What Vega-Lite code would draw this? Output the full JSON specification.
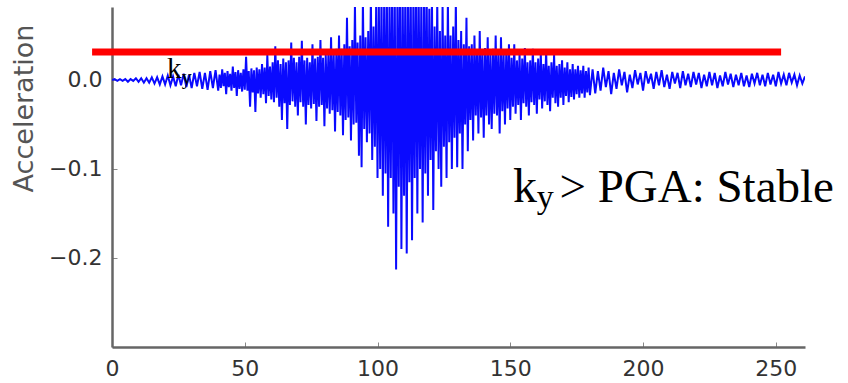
{
  "$schema": "https://vega.github.io/schema/vega-lite/v6.json",
  "width": 693,
  "height": 340,
  "autosize": "none",
  "padding": {"left": 112, "top": 7, "right": 43, "bottom": 36},
  "background": "white",
  "config": {"view": {"stroke": null}},
  "datasets": {
    "sig": [
      {"t":0,"a":0},{"t":1,"a":0.001},{"t":2,"a":-0.001},{"t":3,"a":0.001},{"t":4,"a":-0.001},{"t":5,"a":0.001},{"t":6,"a":-0.002},{"t":7,"a":0.001},{"t":8,"a":-0.001},{"t":9,"a":0.002},{"t":10,"a":-0.002},{"t":11,"a":0.002},{"t":12,"a":-0.003},{"t":13,"a":0.002},{"t":14,"a":-0.003},{"t":15,"a":0.003},{"t":16,"a":-0.004},{"t":17,"a":0.003},{"t":18,"a":-0.005},{"t":19,"a":0.004},{"t":20,"a":-0.005},{"t":21,"a":0.005},{"t":22,"a":-0.006},{"t":23,"a":0.004},{"t":24,"a":-0.007},{"t":25,"a":0.006},{"t":26,"a":-0.006},{"t":27,"a":0.007},{"t":28,"a":-0.008},{"t":29,"a":0.006},{"t":30,"a":-0.009},{"t":31,"a":0.008},{"t":32,"a":-0.007},{"t":33,"a":0.009},{"t":34,"a":-0.01},{"t":35,"a":0.008},{"t":36,"a":-0.011},{"t":37,"a":0.01},{"t":38,"a":-0.009},{"t":39,"a":0.011},{"t":40,"a":-0.012},
      {"t":40.5,"a":0.006},{"t":41,"a":-0.009},{"t":41.5,"a":0.012},{"t":42,"a":-0.007},{"t":42.5,"a":0.008},{"t":43,"a":-0.016},{"t":43.5,"a":0.01},{"t":44,"a":-0.008},{"t":44.5,"a":0.007},{"t":45,"a":-0.012},{"t":45.5,"a":0.015},{"t":46,"a":-0.009},{"t":46.5,"a":0.009},{"t":47,"a":-0.018},{"t":47.5,"a":0.011},{"t":48,"a":-0.01},{"t":48.5,"a":0.008},{"t":49,"a":-0.013},{"t":49.5,"a":0.012},{"t":50,"a":-0.011},{"t":50.5,"a":0.026},{"t":51,"a":-0.012},{"t":51.5,"a":0.01},{"t":52,"a":-0.03},{"t":52.5,"a":0.013},{"t":53,"a":-0.014},{"t":53.5,"a":0.011},{"t":54,"a":-0.036},{"t":54.5,"a":0.014},{"t":55,"a":-0.015},{"t":55.5,"a":0.012},{"t":56,"a":-0.02},{"t":56.5,"a":0.018},{"t":57,"a":-0.016},{"t":57.5,"a":0.014},{"t":58,"a":-0.026},{"t":58.5,"a":0.028},{"t":59,"a":-0.018},{"t":59.5,"a":0.015},{"t":60,"a":-0.022},
      {"t":60.5,"a":0.02},{"t":61,"a":-0.025},{"t":61.5,"a":0.038},{"t":62,"a":-0.02},{"t":62.5,"a":0.022},{"t":63,"a":-0.03},{"t":63.5,"a":0.018},{"t":64,"a":-0.045},{"t":64.5,"a":0.024},{"t":65,"a":-0.026},{"t":65.5,"a":0.02},{"t":66,"a":-0.055},{"t":66.5,"a":0.022},{"t":67,"a":-0.028},{"t":67.5,"a":0.042},{"t":68,"a":-0.024},{"t":68.5,"a":0.025},{"t":69,"a":-0.03},{"t":69.5,"a":0.02},{"t":70,"a":-0.04},{"t":70.5,"a":0.026},{"t":71,"a":-0.025},{"t":71.5,"a":0.044},{"t":72,"a":-0.03},{"t":72.5,"a":0.022},{"t":73,"a":-0.05},{"t":73.5,"a":0.025},{"t":74,"a":-0.028},{"t":74.5,"a":0.02},{"t":75,"a":-0.032},{"t":75.5,"a":0.04},{"t":76,"a":-0.027},{"t":76.5,"a":0.024},{"t":77,"a":-0.046},{"t":77.5,"a":0.026},{"t":78,"a":-0.03},{"t":78.5,"a":0.045},{"t":79,"a":-0.028},{"t":79.5,"a":0.025},{"t":80,"a":-0.052},{"t":80.5,"a":0.028},{"t":81,"a":-0.032},{"t":81.5,"a":0.03},{"t":82,"a":-0.038},{"t":82.5,"a":0.048},{"t":83,"a":-0.034},{"t":83.5,"a":0.03},{"t":84,"a":-0.058},{"t":84.5,"a":0.035},{"t":85,"a":-0.036},
      {"t":85.5,"a":0.05},{"t":86,"a":-0.04},{"t":86.5,"a":0.035},{"t":87,"a":-0.062},{"t":87.5,"a":0.04},{"t":88,"a":-0.045},{"t":88.5,"a":0.07},{"t":89,"a":-0.042},{"t":89.5,"a":0.038},{"t":90,"a":-0.068},{"t":90.5,"a":0.045},{"t":91,"a":-0.05},{"t":91.5,"a":0.085},{"t":92,"a":-0.048},{"t":92.5,"a":0.042},{"t":93,"a":-0.085},{"t":93.5,"a":0.05},{"t":94,"a":-0.098},{"t":94.5,"a":0.09},{"t":95,"a":-0.055},{"t":95.5,"a":0.048},{"t":96,"a":-0.07},{"t":96.5,"a":0.055},{"t":97,"a":-0.06},{"t":97.5,"a":0.095},{"t":98,"a":-0.09},{"t":98.5,"a":0.06},{"t":99,"a":-0.075},{"t":99.5,"a":0.09},{"t":100,"a":-0.11},
      {"t":100.5,"a":0.085},{"t":101,"a":-0.1},{"t":101.5,"a":0.1},{"t":102,"a":-0.13},{"t":102.5,"a":0.09},{"t":103,"a":-0.105},{"t":103.5,"a":0.11},{"t":104,"a":-0.165},{"t":104.5,"a":0.09},{"t":105,"a":-0.11},{"t":105.5,"a":0.12},{"t":106,"a":-0.15},{"t":106.5,"a":0.095},{"t":107,"a":-0.213},{"t":107.5,"a":0.1},{"t":108,"a":-0.12},{"t":108.5,"a":0.13},{"t":109,"a":-0.19},{"t":109.5,"a":0.09},{"t":110,"a":-0.13},{"t":110.5,"a":0.12},{"t":111,"a":-0.195},{"t":111.5,"a":0.1},{"t":112,"a":-0.115},{"t":112.5,"a":0.11},{"t":113,"a":-0.18},{"t":113.5,"a":0.095},{"t":114,"a":-0.11},{"t":114.5,"a":0.12},{"t":115,"a":-0.15},{"t":115.5,"a":0.1},{"t":116,"a":-0.1},{"t":116.5,"a":0.09},{"t":117,"a":-0.16},{"t":117.5,"a":0.1},{"t":118,"a":-0.105},{"t":118.5,"a":0.11},{"t":119,"a":-0.13},{"t":119.5,"a":0.08},{"t":120,"a":-0.09},{"t":120.5,"a":0.095},{"t":121,"a":-0.146},{"t":121.5,"a":0.06},{"t":122,"a":-0.08},{"t":122.5,"a":0.09},{"t":123,"a":-0.1},{"t":123.5,"a":0.055},{"t":124,"a":-0.12},{"t":124.5,"a":0.085},{"t":125,"a":-0.075},{"t":125.5,"a":0.05},{"t":126,"a":-0.11},{"t":126.5,"a":0.09},{"t":127,"a":-0.07},{"t":127.5,"a":0.05},{"t":128,"a":-0.1},{"t":128.5,"a":0.06},{"t":129,"a":-0.065},{"t":129.5,"a":0.09},{"t":130,"a":-0.098},
      {"t":130.5,"a":0.045},{"t":131,"a":-0.06},{"t":131.5,"a":0.055},{"t":132,"a":-0.1},{"t":132.5,"a":0.04},{"t":133,"a":-0.05},{"t":133.5,"a":0.07},{"t":134,"a":-0.08},{"t":134.5,"a":0.038},{"t":135,"a":-0.045},{"t":135.5,"a":0.04},{"t":136,"a":-0.068},{"t":136.5,"a":0.05},{"t":137,"a":-0.04},{"t":137.5,"a":0.034},{"t":138,"a":-0.06},{"t":138.5,"a":0.055},{"t":139,"a":-0.042},{"t":139.5,"a":0.032},{"t":140,"a":-0.065},{"t":140.5,"a":0.036},{"t":141,"a":-0.04},{"t":141.5,"a":0.048},{"t":142,"a":-0.05},{"t":142.5,"a":0.03},{"t":143,"a":-0.055},{"t":143.5,"a":0.035},{"t":144,"a":-0.038},{"t":144.5,"a":0.05},{"t":145,"a":-0.04},{"t":145.5,"a":0.03},{"t":146,"a":-0.06},{"t":146.5,"a":0.048},{"t":147,"a":-0.035},{"t":147.5,"a":0.028},{"t":148,"a":-0.05},{"t":148.5,"a":0.034},{"t":149,"a":-0.032},{"t":149.5,"a":0.04},{"t":150,"a":-0.045},
      {"t":150.5,"a":0.025},{"t":151,"a":-0.03},{"t":151.5,"a":0.04},{"t":152,"a":-0.038},{"t":152.5,"a":0.022},{"t":153,"a":-0.028},{"t":153.5,"a":0.03},{"t":154,"a":-0.045},{"t":154.5,"a":0.024},{"t":155,"a":-0.026},{"t":155.5,"a":0.036},{"t":156,"a":-0.03},{"t":156.5,"a":0.02},{"t":157,"a":-0.04},{"t":157.5,"a":0.022},{"t":158,"a":-0.025},{"t":158.5,"a":0.035},{"t":159,"a":-0.028},{"t":159.5,"a":0.02},{"t":160,"a":-0.038},{"t":160.5,"a":0.024},{"t":161,"a":-0.022},{"t":161.5,"a":0.03},{"t":162,"a":-0.032},{"t":162.5,"a":0.018},{"t":163,"a":-0.024},{"t":163.5,"a":0.033},{"t":164,"a":-0.028},{"t":164.5,"a":0.016},{"t":165,"a":-0.035},{"t":165.5,"a":0.02},{"t":166,"a":-0.02},{"t":166.5,"a":0.028},{"t":167,"a":-0.026},{"t":167.5,"a":0.016},{"t":168,"a":-0.03},{"t":168.5,"a":0.018},{"t":169,"a":-0.02},{"t":169.5,"a":0.022},{"t":170,"a":-0.028},{"t":170.5,"a":0.014},{"t":171,"a":-0.018},{"t":171.5,"a":0.02},{"t":172,"a":-0.025},{"t":172.5,"a":0.012},{"t":173,"a":-0.019},{"t":173.5,"a":0.018},{"t":174,"a":-0.022},{"t":174.5,"a":0.012},{"t":175,"a":-0.016},{"t":175.5,"a":0.016},{"t":176,"a":-0.02},{"t":176.5,"a":0.011},{"t":177,"a":-0.015},{"t":177.5,"a":0.016},{"t":178,"a":-0.02},{"t":178.5,"a":0.01},{"t":179,"a":-0.014},{"t":179.5,"a":0.014},{"t":180,"a":-0.017},
      {"t":181,"a":0.012},{"t":182,"a":-0.015},{"t":183,"a":0.01},{"t":184,"a":-0.012},{"t":185,"a":0.014},{"t":186,"a":-0.008},{"t":187,"a":0.01},{"t":188,"a":-0.016},{"t":189,"a":0.008},{"t":190,"a":-0.01},{"t":191,"a":0.012},{"t":192,"a":-0.006},{"t":193,"a":0.009},{"t":194,"a":-0.014},{"t":195,"a":0.006},{"t":196,"a":-0.009},{"t":197,"a":0.011},{"t":198,"a":-0.005},{"t":199,"a":0.008},{"t":200,"a":-0.012},{"t":201,"a":0.01},{"t":202,"a":-0.004},{"t":203,"a":0.007},{"t":204,"a":-0.01},{"t":205,"a":0.009},{"t":206,"a":-0.006},{"t":207,"a":0.011},{"t":208,"a":-0.008},{"t":209,"a":0.006},{"t":210,"a":-0.01},{"t":211,"a":0.009},{"t":212,"a":-0.004},{"t":213,"a":0.008},{"t":214,"a":-0.009},{"t":215,"a":0.01},{"t":216,"a":-0.006},{"t":217,"a":0.007},{"t":218,"a":-0.008},{"t":219,"a":0.009},{"t":220,"a":-0.005},{"t":221,"a":0.008},{"t":222,"a":-0.009},{"t":223,"a":0.006},{"t":224,"a":-0.007},{"t":225,"a":0.009},{"t":226,"a":-0.006},{"t":227,"a":0.008},{"t":228,"a":-0.009},{"t":229,"a":0.005},{"t":230,"a":-0.007},{"t":231,"a":0.009},{"t":232,"a":-0.005},{"t":233,"a":0.007},{"t":234,"a":-0.008},{"t":235,"a":0.006},{"t":236,"a":-0.006},{"t":237,"a":0.008},{"t":238,"a":-0.007},{"t":239,"a":0.005},{"t":240,"a":-0.008},{"t":241,"a":0.007},{"t":242,"a":-0.004},{"t":243,"a":0.008},{"t":244,"a":-0.006},{"t":245,"a":0.006},{"t":246,"a":-0.007},{"t":247,"a":0.008},{"t":248,"a":-0.005},{"t":249,"a":0.006},{"t":250,"a":-0.007},{"t":251,"a":0.009},{"t":252,"a":-0.004},{"t":253,"a":0.006},{"t":254,"a":-0.006},{"t":255,"a":0.008},{"t":256,"a":-0.003},{"t":257,"a":0.006},{"t":258,"a":-0.006},{"t":259,"a":0.005},{"t":260,"a":-0.004},{"t":261,"a":0.004}
    ],
    "ky": [{"t0": -7.5, "t1": 252, "a": 0.0315}],
    "mainText": [{"t": 151, "a": -0.137, "label": "k"}],
    "mainSub": [{"t": 160, "a": -0.144, "label": "y"}],
    "mainRest": [{"t": 168.5, "a": -0.137, "label": "> PGA: Stable"}],
    "smallK": [{"t": 20.7, "a": 0.002, "label": "k"}],
    "smallY": [{"t": 26.3, "a": -0.004, "label": "y"}]
  },
  "layer": [
    {
      "data": {"name": "sig"},
      "mark": {"type": "line", "color": "#0a0aff", "strokeWidth": 2, "clip": true},
      "encoding": {
        "x": {
          "field": "t", "type": "quantitative",
          "scale": {"domain": [0, 261], "nice": false, "zero": false},
          "axis": {
            "values": [0, 50, 100, 150, 200, 250], "title": null, "grid": false,
            "domainColor": "#666", "domainWidth": 2.5, "tickColor": "#888", "tickSize": -5, "tickWidth": 1,
            "labelFont": "DejaVu Sans", "labelFontSize": 22, "labelColor": "#333", "labelPadding": 16, "labelFlush": false
          }
        },
        "y": {
          "field": "a", "type": "quantitative",
          "scale": {"domain": [-0.3, 0.082], "nice": false, "zero": false},
          "axis": {
            "values": [0, -0.1, -0.2], "format": ".1f", "title": "Acceleration", "grid": false,
            "domainColor": "#666", "domainWidth": 2.5, "tickColor": "#888", "tickSize": -5, "tickWidth": 1,
            "labelFont": "DejaVu Sans", "labelFontSize": 22, "labelColor": "#333", "labelPadding": 15,
            "titleFont": "DejaVu Sans", "titleFontSize": 27, "titleFontWeight": "normal", "titleColor": "#555", "titlePadding": 10, "titleY": 101
          }
        }
      }
    },
    {
      "data": {"name": "ky"},
      "mark": {"type": "rule", "color": "#ff0000", "strokeWidth": 7, "clip": false},
      "encoding": {
        "x": {"field": "t0", "type": "quantitative"},
        "x2": {"field": "t1"},
        "y": {"field": "a", "type": "quantitative"}
      }
    },
    {
      "data": {"name": "smallK"},
      "mark": {"type": "text", "font": "Liberation Serif", "fontSize": 29, "align": "left", "baseline": "alphabetic", "color": "#000"},
      "encoding": {
        "x": {"field": "t", "type": "quantitative"},
        "y": {"field": "a", "type": "quantitative"},
        "text": {"field": "label"}
      }
    },
    {
      "data": {"name": "smallY"},
      "mark": {"type": "text", "font": "Liberation Serif", "fontSize": 20, "align": "left", "baseline": "alphabetic", "color": "#000"},
      "encoding": {
        "x": {"field": "t", "type": "quantitative"},
        "y": {"field": "a", "type": "quantitative"},
        "text": {"field": "label"}
      }
    },
    {
      "data": {"name": "mainText"},
      "mark": {"type": "text", "font": "Liberation Serif", "fontSize": 48, "align": "left", "baseline": "alphabetic", "color": "#000"},
      "encoding": {
        "x": {"field": "t", "type": "quantitative"},
        "y": {"field": "a", "type": "quantitative"},
        "text": {"field": "label"}
      }
    },
    {
      "data": {"name": "mainSub"},
      "mark": {"type": "text", "font": "Liberation Serif", "fontSize": 34, "align": "left", "baseline": "alphabetic", "color": "#000"},
      "encoding": {
        "x": {"field": "t", "type": "quantitative"},
        "y": {"field": "a", "type": "quantitative"},
        "text": {"field": "label"}
      }
    },
    {
      "data": {"name": "mainRest"},
      "mark": {"type": "text", "font": "Liberation Serif", "fontSize": 47, "align": "left", "baseline": "alphabetic", "color": "#000"},
      "encoding": {
        "x": {"field": "t", "type": "quantitative"},
        "y": {"field": "a", "type": "quantitative"},
        "text": {"field": "label"}
      }
    }
  ]
}
